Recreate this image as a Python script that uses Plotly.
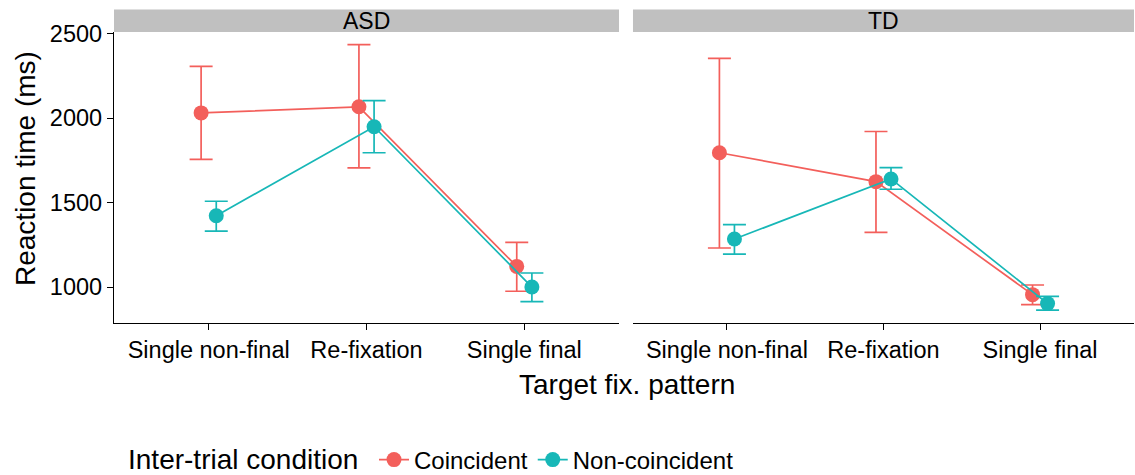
import plotly.graph_objects as go

categories = ["Single non-final", "Re-fixation", "Single final"]
groups = ["ASD", "TD"]
conditions = ["Coincident", "Non-coincident"]
colors = {"Coincident": "#F35F5B", "Non-coincident": "#17B7B7"}
legend_title = "Inter-trial condition"

# mean, upper, lower per group/condition
asd_coinc_mean = [2031, 2067, 1122]
asd_coinc_upper = [2307, 2435, 1264]
asd_coinc_lower = [1756, 1705, 975]
asd_non_mean = [1422, 1949, 1000]
asd_non_upper = [1508, 2104, 1083]
asd_non_lower = [1331, 1795, 914]

td_coinc_mean = [1795, 1624, 955]
td_coinc_upper = [2354, 1921, 1012]
td_coinc_lower = [1231, 1323, 896]
td_non_mean = [1284, 1640, 902]
td_non_upper = [1370, 1707, 945]
td_non_lower = [1195, 1579, 863]

data = {
    ("ASD", "Coincident"): (asd_coinc_mean, asd_coinc_upper, asd_coinc_lower),
    ("ASD", "Non-coincident"): (asd_non_mean, asd_non_upper, asd_non_lower),
    ("TD", "Coincident"): (td_coinc_mean, td_coinc_upper, td_coinc_lower),
    ("TD", "Non-coincident"): (td_non_mean, td_non_upper, td_non_lower),
}

dodge = {"Coincident": -0.048, "Non-coincident": 0.048}
FONT = "Liberation Sans, Arial, Helvetica, sans-serif"

fig = go.Figure()
for gi, g in enumerate(groups):
    xa = "x" if gi == 0 else "x2"
    ya = "y" if gi == 0 else "y2"
    for c in conditions:
        m, up, lo = data[(g, c)]
        xs = [i + 1 + dodge[c] for i in range(len(categories))]
        fig.add_trace(go.Scatter(
            x=xs, y=m, mode="lines+markers", name=c,
            legendgroup=c, showlegend=(gi == 0),
            xaxis=xa, yaxis=ya,
            line=dict(color=colors[c], width=1.7),
            marker=dict(color=colors[c], size=15),
            error_y=dict(type="data", symmetric=False,
                         array=[u - v for u, v in zip(up, m)],
                         arrayminus=[v - l for v, l in zip(m, lo)],
                         color=colors[c], thickness=1.7, width=11.5),
        ))

tickfont = dict(family=FONT, size=23.5, color="black")
xcommon = dict(range=[0.4, 3.6], tickvals=[1, 2, 3], ticktext=categories,
               showline=True, linecolor="black", linewidth=1.3,
               ticks="outside", ticklen=6, tickcolor="black", tickwidth=1.3,
               tickfont=tickfont, showgrid=False, zeroline=False, automargin=False)
ycommon = dict(range=[787, 2510], tickvals=[1000, 1500, 2000, 2500],
               showgrid=False, zeroline=False, automargin=False)

fig.update_layout(
    width=1135, height=475,
    margin=dict(l=114, r=1, t=32, b=152, autoexpand=False),
    paper_bgcolor="white", plot_bgcolor="white",
    font=dict(family=FONT, color="black"),
    xaxis=dict(domain=[0, 0.4951], **xcommon),
    xaxis2=dict(domain=[0.5088, 1], anchor="y2", **xcommon),
    yaxis=dict(domain=[0, 1], showline=True, linecolor="black", linewidth=1.3,
               ticks="outside", ticklen=6, tickcolor="black", tickwidth=1.3,
               tickfont=tickfont, **ycommon),
    yaxis2=dict(domain=[0, 1], anchor="x2", showline=False, showticklabels=False,
                ticks="", **ycommon),
    legend=dict(orientation="h", x=(374 - 114) / 1020.0, xanchor="left",
                y=(323 - 460) / 291.0, yanchor="middle", valign="middle",
                font=dict(family=FONT, size=24), tracegroupgap=0),
)

# facet strips
strip_top = 1 + (32 - 9.5) / 291.0
for gi, g in enumerate(groups):
    x0, x1 = ([0, 0.4951] if gi == 0 else [0.5088, 1])
    fig.add_shape(type="rect", xref="paper", yref="paper",
                  x0=x0, x1=x1, y0=1.0, y1=strip_top,
                  fillcolor="#C0C0C0", line=dict(width=0), layer="below")
    fig.add_annotation(x=(x0 + x1) / 2, y=(1 + strip_top) / 2, xref="paper", yref="paper",
                       text=g, showarrow=False, font=dict(family=FONT, size=23, color="black"),
                       xanchor="center", yanchor="middle")

# axis titles
fig.add_annotation(x=(627 - 114) / 1020.0, y=(323 - 384) / 291.0, xref="paper", yref="paper",
                   text="Target fix. pattern", showarrow=False,
                   font=dict(family=FONT, size=28, color="black"),
                   xanchor="center", yanchor="middle")
fig.add_annotation(x=(25 - 114) / 1020.0, y=(323 - 169) / 291.0, xref="paper", yref="paper",
                   text="Reaction time (ms)", showarrow=False, textangle=-90,
                   font=dict(family=FONT, size=28, color="black"),
                   xanchor="center", yanchor="middle")
# legend title
fig.add_annotation(x=(126 - 114) / 1020.0, y=(323 - 459) / 291.0, xref="paper", yref="paper",
                   text=legend_title, showarrow=False,
                   font=dict(family=FONT, size=28, color="black"),
                   xanchor="left", yanchor="middle")

fig.write_html("out.html", config={"displayModeBar": False},
               post_script="document.body.style.margin='0';document.body.style.overflow='hidden';")
